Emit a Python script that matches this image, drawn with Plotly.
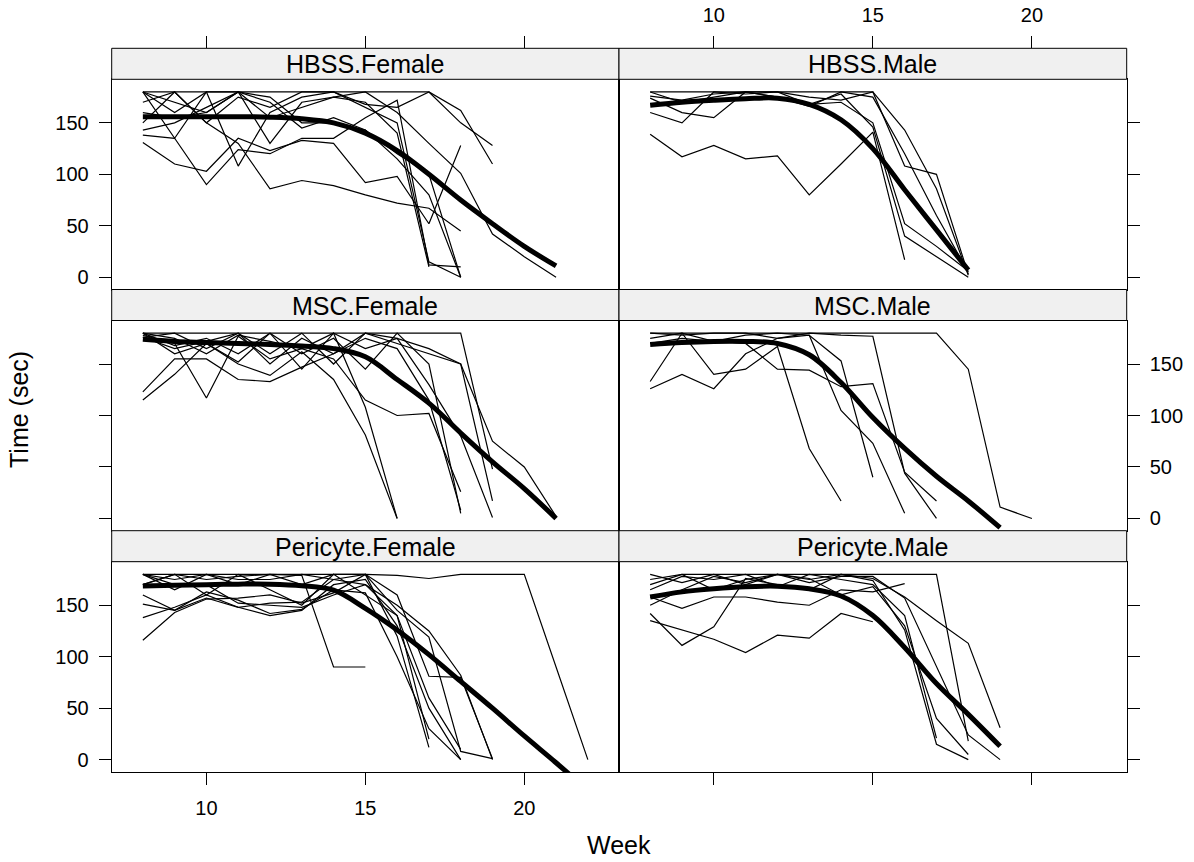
import plotly.graph_objects as go

# ---------------- data ----------------
WEEKS = [8, 9, 10, 11, 12, 13, 14, 15, 16, 17, 18, 19, 20, 21, 22]
PANELS = ["HBSS.Female", "HBSS.Male", "MSC.Female", "MSC.Male",
          "Pericyte.Female", "Pericyte.Male"]
X_TICKS = [10, 15, 20]
Y_TICKS = [0, 50, 100, 150]

# each inner list: one animal, time (sec) from week 8 onwards
HBSS_FEMALE = [
    [180, 180, 180, 180, 180, 180, 180, 180, 180, 180, 162, 110],
    [170, 180, 150, 175, 165, 180, 180, 168, 165, 180, 150, 128],
    [131, 110, 103, 135, 123, 133, 130, 92, 98, 52, 128],
    [138, 135, 90, 124, 120, 135, 135, 155, 172, 12, 10],
    [180, 160, 180, 108, 160, 175, 180, 165, 150, 15, 0],
    [180, 135, 180, 180, 130, 170, 175, 170, 140, 10],
    [150, 180, 150, 130, 86, 94, 89, 80, 72, 67, 45],
    [143, 150, 165, 180, 155, 165, 175, 180, 160, 130, 101, 42, 20, 0],
    [180, 170, 160, 180, 170, 145, 155, 143, 120, 100, 0],
    [160, 155, 160, 180, 175, 150, 150, 143, 115, 80, 0],
]
HBSS_MALE = [
    [139, 117, 128, 115, 118, 80, 110, 141, 17],
    [180, 180, 180, 180, 180, 180, 180, 180, 108, 100, 3],
    [174, 160, 155, 180, 180, 175, 172, 180, 143, 86, 2],
    [160, 150, 180, 178, 180, 168, 170, 150, 52, 30, 6],
    [180, 170, 175, 180, 175, 168, 178, 146, 40, 20, 0],
    [176, 172, 178, 180, 175, 166, 180, 175, 120, 60, 5],
]
MSC_FEMALE = [
    [180, 180, 180, 180, 180, 180, 180, 180, 180, 180, 180, 48],
    [176, 165, 172, 180, 160, 180, 150, 180, 170, 160, 150, 17],
    [123, 155, 155, 135, 133, 147, 160, 175, 165, 115, 8],
    [115, 140, 170, 150, 139, 162, 135, 81, 0],
    [178, 170, 117, 177, 155, 165, 180, 108, 0],
    [180, 175, 160, 178, 172, 165, 155, 115, 100, 102, 26],
    [180, 168, 175, 160, 180, 145, 180, 165, 175, 165, 150, 75, 50, 2],
    [176, 180, 165, 180, 150, 175, 160, 180, 175, 130, 80, 1],
    [180, 160, 170, 152, 180, 160, 175, 145, 180, 150, 5],
]
MSC_MALE = [
    [180, 180, 180, 180, 180, 180, 180, 180, 180, 180, 145, 11, 0],
    [133, 180, 140, 145, 167, 68, 17],
    [126, 140, 126, 160, 175, 180, 178, 177, 44, 0],
    [175, 180, 172, 178, 180, 178, 153, 40],
    [180, 178, 180, 180, 175, 178, 105, 73, 5],
    [170, 175, 172, 170, 145, 144, 128, 131, 45, 17],
]
PERICYTE_FEMALE = [
    [180, 180, 180, 180, 180, 180, 180, 180, 179, 176, 180, 180, 180, 90, 0],
    [170, 180, 175, 178, 180, 179, 90, 90],
    [116, 143, 156, 157, 160, 152, 162, 180, 120, 12],
    [138, 148, 160, 148, 140, 145, 170, 175, 130, 50, 0],
    [151, 145, 157, 148, 152, 153, 175, 180, 145, 119, 8, 1],
    [160, 145, 163, 155, 142, 146, 165, 162, 100, 30, 0],
    [180, 165, 180, 175, 175, 180, 175, 170, 150, 125, 82, 0],
    [180, 175, 180, 170, 180, 170, 180, 180, 160, 81, 80, 1],
    [170, 180, 160, 180, 165, 150, 180, 160, 140, 60, 10],
    [180, 170, 170, 152, 150, 148, 160, 170, 140, 20],
]
PERICYTE_MALE = [
    [142, 111, 129, 176, 170, 165, 180, 174, 126, 15, 0],
    [135, 126, 117, 104, 121, 118, 142, 134],
    [158, 147, 158, 158, 153, 150, 165, 163, 171],
    [180, 172, 180, 180, 180, 180, 180, 180, 180, 180, 18],
    [170, 180, 165, 175, 180, 175, 180, 176, 158, 135, 113, 31],
    [175, 180, 180, 170, 180, 172, 178, 178, 157, 90, 24, 0],
    [165, 178, 175, 180, 168, 180, 175, 170, 140, 21],
    [150, 165, 178, 172, 180, 176, 160, 168, 130, 40, 5],
]

# smoothed group trend, from week 8 onwards
SMOOTH_HBSS_FEMALE = [156, 156, 156, 156, 155.5, 154, 150, 140, 123, 100, 75, 52, 30, 11]
SMOOTH_HBSS_MALE = [167, 170, 172, 173.5, 174, 168, 153, 125, 85, 46, 7]
SMOOTH_MSC_FEMALE = [174, 172, 171, 170, 169, 167.5, 165, 157, 135, 112, 83, 55, 29, 0]
SMOOTH_MSC_MALE = [169, 171, 172, 172, 170, 159, 132, 98, 68, 41, 17, -9]
SMOOTH_PERICYTE_FEMALE = [168.6, 169.5, 170, 170.5, 170.5, 169, 164.6, 147, 126, 102, 76, 50, 23, -3, -30]
SMOOTH_PERICYTE_MALE = [158, 163, 166, 168, 168.5, 166, 159, 140, 109, 74, 44, 13]

MICE = [HBSS_FEMALE, HBSS_MALE, MSC_FEMALE, MSC_MALE, PERICYTE_FEMALE, PERICYTE_MALE]
SMOOTH = [SMOOTH_HBSS_FEMALE, SMOOTH_HBSS_MALE, SMOOTH_MSC_FEMALE, SMOOTH_MSC_MALE,
          SMOOTH_PERICYTE_FEMALE, SMOOTH_PERICYTE_MALE]

# ---------------- layout geometry (pixels) ----------------
W, H = 1194, 862
LEFT, MID, RIGHT = 111.7, 619.0, 1126.7
TOP, ROW_H, STRIP_H = 48.3, 241.2, 31.0
XR = [7.02, 22.98]
YR = [-11.9, 192.3]
FONT = "Liberation Sans, Arial, Helvetica, sans-serif"
TICK_FONT = dict(family=FONT, size=20, color="black")
STRIP_FONT = dict(family=FONT, size=25, color="black")

fig = go.Figure()
shapes, annotations = [], []
layout = {}

for i, name in enumerate(PANELS):
    r, c = divmod(i, 2)
    n = i + 1
    xa = "x" if n == 1 else f"x{n}"
    ya = "y" if n == 1 else f"y{n}"
    for s in MICE[i]:
        fig.add_trace(go.Scatter(x=WEEKS[:len(s)], y=s, mode="lines",
                                 line=dict(color="black", width=1.2),
                                 xaxis=xa, yaxis=ya, hoverinfo="skip"))
    sm = SMOOTH[i]
    fig.add_trace(go.Scatter(x=WEEKS[:len(sm)], y=sm, mode="lines",
                             line=dict(color="black", width=5, shape="spline", smoothing=1.0),
                             xaxis=xa, yaxis=ya, hoverinfo="skip"))

    x0 = LEFT if c == 0 else MID
    x1 = MID if c == 0 else RIGHT
    rtop = TOP + r * ROW_H
    ptop = rtop + STRIP_H
    pbot = rtop + ROW_H

    layout[f"xaxis{n}"] = dict(
        domain=[x0 / W, x1 / W], range=XR, anchor=ya,
        showline=True, mirror=True, linecolor="black", linewidth=1,
        showgrid=False, zeroline=False, tickvals=X_TICKS,
        ticks="outside" if r == 2 else "", ticklen=12, tickwidth=1, tickcolor="black",
        showticklabels=(r == 2 and c == 0), tickfont=TICK_FONT, ticklabelstandoff=6,
    )
    layout[f"yaxis{n}"] = dict(
        domain=[1 - pbot / H, 1 - ptop / H], range=YR, anchor=xa,
        side="left" if c == 0 else "right",
        showline=True, mirror=True, linecolor="black", linewidth=1,
        showgrid=False, zeroline=False, tickvals=Y_TICKS,
        ticks="outside", ticklen=12, tickwidth=1, tickcolor="black",
        showticklabels=(c == 0 and r != 1) or (c == 1 and r == 1),
        tickfont=TICK_FONT, ticklabelstandoff=6,
    )

    # strip
    shapes.append(dict(type="rect", xref="paper", yref="paper",
                       x0=x0 / W, x1=x1 / W, y0=1 - ptop / H, y1=1 - rtop / H,
                       fillcolor="#f0f0f0", line=dict(color="black", width=1)))
    annotations.append(dict(text=name, xref="paper", yref="paper",
                            x=(x0 + x1) / 2 / W, y=1 - (rtop + STRIP_H / 2 + 0.5) / H,
                            xanchor="center", yanchor="middle", showarrow=False,
                            font=STRIP_FONT))

# top tick axes above the first-row strips
for k, (base, ya) in enumerate([("x", "y"), ("x2", "y2")]):
    n = 7 + k
    layout[f"xaxis{n}"] = dict(
        overlaying=base, anchor="free", position=1 - TOP / H, side="top",
        range=XR, tickvals=X_TICKS, ticks="outside", ticklen=12, tickwidth=1,
        tickcolor="black", showline=False, showgrid=False, zeroline=False,
        showticklabels=(k == 1), tickfont=TICK_FONT, ticklabelstandoff=6,
    )
    fig.add_trace(go.Scatter(x=[X_TICKS[0]], y=[None], mode="lines",
                             xaxis=f"x{n}", yaxis=ya, hoverinfo="skip",
                             showlegend=False))

annotations.append(dict(text="Week", xref="paper", yref="paper",
                        x=618.5 / W, y=1 - 845 / H, xanchor="center", yanchor="middle",
                        showarrow=False, font=STRIP_FONT))
annotations.append(dict(text="Time (sec)", xref="paper", yref="paper",
                        x=19 / W, y=1 - 410 / H, xanchor="center", yanchor="middle",
                        textangle=-90, showarrow=False, font=STRIP_FONT))

fig.update_layout(
    width=W, height=H, margin=dict(l=0, r=0, t=0, b=0),
    paper_bgcolor="white", plot_bgcolor="white", showlegend=False,
    shapes=shapes, annotations=annotations, **layout,
)

fig.write_html("out.html")
